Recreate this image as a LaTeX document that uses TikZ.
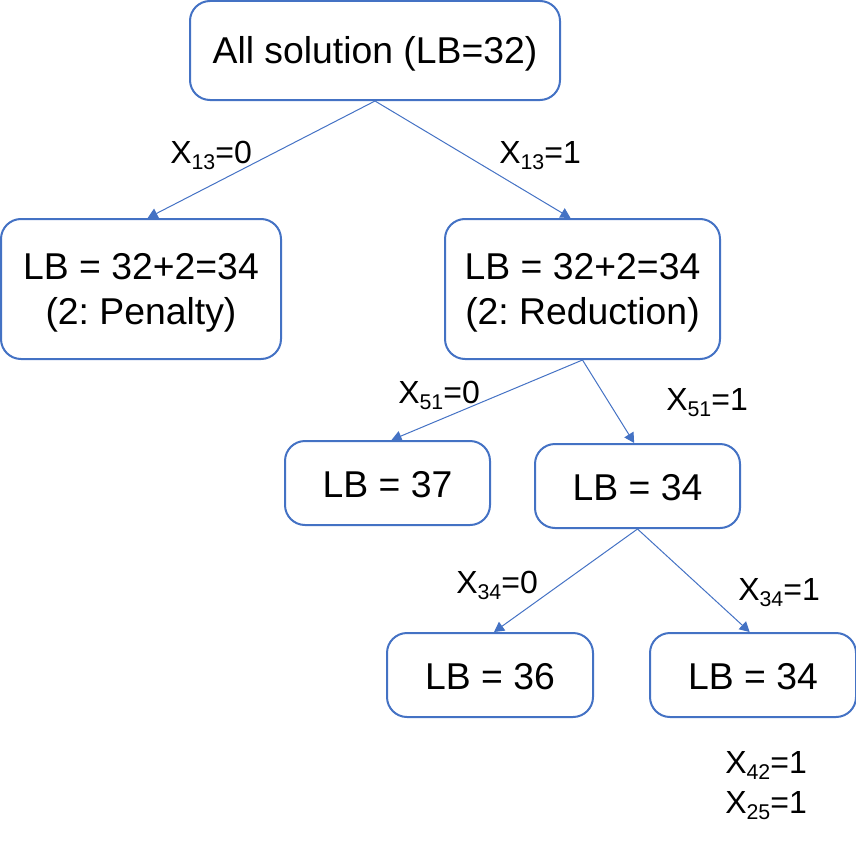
\documentclass[tikz,border=0pt]{standalone}
\usepackage{fontspec}
\setmainfont{Liberation Sans}
\usetikzlibrary{arrows.meta}
\definecolor{bblue}{HTML}{4472C4}
\newcommand{\sbs}[1]{\raisebox{-5pt}{\fontsize{16}{18}\selectfont #1}}
\newcommand{\tup}[1]{\rule{0pt}{#1}}
\frenchspacing
\begin{document}
\begin{tikzpicture}[x=0.75pt,y=-0.75pt,
  box/.style={draw=bblue,line width=1.5pt,rounded corners=15pt,inner sep=0pt,align=center,
    font=\fontsize{28}{34}\selectfont,text=black},
  conn/.style={draw=bblue,line width=0.75pt,-{Triangle[length=7.5pt,width=8pt]}},
  lbl/.style={anchor=base west,inner sep=0pt,font=\fontsize{24}{30}\selectfont}]
\useasboundingbox (0,0) rectangle (856,842);
\node[box,minimum width=277.5pt,minimum height=74.25pt] (root) at (375,50.5) {\tup{25pt}All solution (LB=32)};
\node[box,minimum width=210pt,minimum height=105pt] (left) at (141,289) {\tup{25pt}LB = 32+2=34\\(2: Penalty)};
\node[box,minimum width=206.25pt,minimum height=105pt] (right) at (582.5,289) {\tup{25pt}LB = 32+2=34\\(2: Reduction)};
\node[box,minimum width=153.75pt,minimum height=63pt] (b37) at (387.5,483) {\tup{22.5pt}LB = 37};
\node[box,minimum width=153.75pt,minimum height=63pt] (b34) at (637.5,486) {\tup{22.5pt}LB = 34};
\node[box,minimum width=154.5pt,minimum height=63pt] (b36) at (490,675) {\tup{22pt}LB = 36};
\node[box,minimum width=154.5pt,minimum height=63pt] (c34) at (753,675) {\tup{22pt}LB = 34};
\draw[conn] (root.south) -- ([xshift=5pt]left.north);
\draw[conn] (root.south) -- ([xshift=-9pt]right.north);
\draw[conn] (right.south) -- ([xshift=3pt]b37.north);
\draw[conn] (right.south) -- ([xshift=-2.5pt]b34.north);
\draw[conn] (b34.south) -- ([xshift=3pt]b36.north);
\draw[conn] (b34.south) -- ([xshift=-2.5pt]c34.north);
\node[lbl] (l1) at (170,163) {X\sbs{13}=0};
\node[lbl] (l2) at (499,163) {X\sbs{13}=1};
\node[lbl] (l3) at (398,403) {X\sbs{51}=0};
\node[lbl] (l4) at (666,410) {X\sbs{51}=1};
\node[lbl] (l5) at (456,593) {X\sbs{34}=0};
\node[lbl] (l6) at (738,600) {X\sbs{34}=1};
\node[lbl] (l7) at (725,773) {X\sbs{42}=1};
\node[lbl] (l8) at (725,813) {X\sbs{25}=1};
\end{tikzpicture}
\end{document}
